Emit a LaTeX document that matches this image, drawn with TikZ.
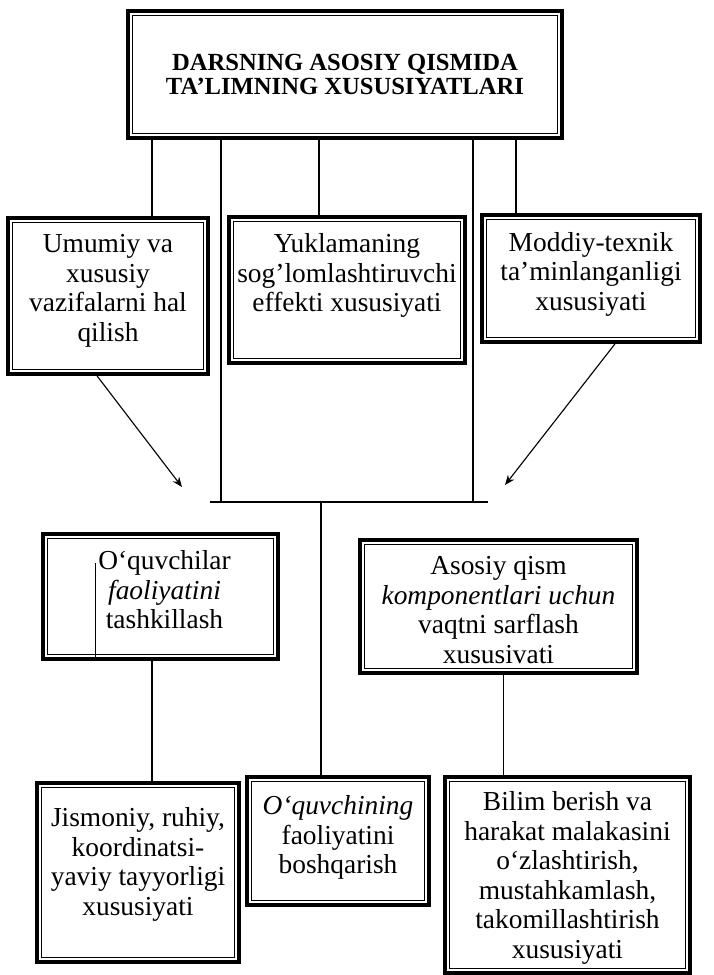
\documentclass[tikz,border=0pt]{standalone}
\usepackage{fontspec}
\setmainfont{Liberation Serif}
\usetikzlibrary{arrows.meta, positioning}

\begin{document}
\begin{tikzpicture}[
    x=0.025cm, y=-0.025cm,
    box/.style={rectangle, draw=black, line width=2.6pt, inner sep=0pt,
        path picture={\draw[line width=0.6pt] ([shift={(3.2pt,-3.2pt)}]path picture bounding box.north west) rectangle ([shift={(-3.2pt,3.2pt)}]path picture bounding box.south east);}},
    txt/.style={align=center, inner sep=0pt, font=\fontsize{19.5}{21}\selectfont},
    title/.style={align=center, font=\bfseries\fontsize{17.5}{17.5}\selectfont},
    link/.style={line width=0.8pt},
    arrow/.style={-{Stealth[length=2.5mm, width=2mm]}, line width=0.8pt}
]
\useasboundingbox (0,0) rectangle (713,975);

% main box
\node[box, title, minimum width=10.85cm, minimum height=3.175cm] (head) at (345,74.5) {DARSNING ASOSIY QISMIDA\\TA’LIMNING XUSUSIYATLARI};

% first row
\node[box, minimum width=5cm, minimum height=3.9cm] (task) at (108,296) {};
\node[txt, below=4.5mm of task.north] (taskT) {Umumiy va\\xususiy\\vazifalarni hal\\qilish};
\node[box, minimum width=5.9cm, minimum height=3.65cm] (load) at (347,290) {};
\node[txt, below=4.5mm of load.north] (loadT) {Yuklamaning\\sog’lomlashtiruvchi\\effekti xususiyati};
\node[box, minimum width=5.45cm, minimum height=3.175cm] (equip) at (591,278.5) {};
\node[txt, below=4.7mm of equip.north] (equipT) {Moddiy-texnik\\ta’minlanganligi\\xususiyati};

% second row
\node[box, minimum width=5.875cm, minimum height=3.125cm] (org) at (160.5,596.5) {};
\node[txt, below=4.5mm of org.north, xshift=0.1cm] (orgT) {O‘quvchilar\\\textit{faoliyatini}\\tashkillash};
\node[box, minimum width=6.925cm, minimum height=3.325cm] (time) at (498.5,606.5) {};
\node[txt, below=4.5mm of time.north] (timeT) {Asosiy qism\\\textit{komponentlari uchun}\\vaqtni sarflash\\xususivati};

% third row
\node[box, minimum width=5.05cm, minimum height=4.475cm] (prep) at (138,872.5) {};
\node[txt, below=6.5mm of prep.north] (prepT) {Jismoniy, ruhiy,\\koordinatsi-\\yaviy tayyorligi\\xususiyati};
\node[box, minimum width=4.55cm, minimum height=3.2cm] (ctrl) at (338,841) {};
\node[txt, below=5mm of ctrl.north] (ctrlT) {\textit{O‘quvchining}\\faoliyatini\\boshqarish};
\node[box, minimum width=6.125cm, minimum height=4.9cm] (skill) at (567.5,875) {};
\node[txt, below=4mm of skill.north] (skillT) {Bilim berish va\\harakat malakasini\\o‘zlashtirish,\\mustahkamlash,\\takomillashtirish\\xususiyati};

% hub line and arrow ends
\coordinate (hubL) at (210,502);
\coordinate (hubR) at (488,502);
\coordinate (tipL) at (182,487);
\coordinate (tipR) at (505,485);

\draw[link] ([xshift=1.1cm]task.north) -- ([xshift=1.1cm]task.north |- head.south);
\draw[link] ([xshift=-0.7cm]load.north) -- ([xshift=-0.7cm]load.north |- head.south);
\draw[link] ([xshift=-1.875cm]equip.north) -- ([xshift=-1.875cm]equip.north |- head.south);
\draw[link] ([xshift=-3.1cm]head.south) -- ([xshift=-3.1cm]head.south |- hubL);
\draw[link] ([xshift=3.2cm]head.south) -- ([xshift=3.2cm]head.south |- hubR);
\draw[link, line width=1.2pt] (hubL) -- (hubR);

\draw[arrow] ([xshift=-0.275cm]task.south) -- (tipL);
\draw[arrow] ([xshift=0.6cm]equip.south) -- (tipR);

\draw[link] ([xshift=-0.425cm]ctrl.north) -- ([xshift=-0.425cm]ctrl.north |- hubL);
\draw[link] ([xshift=0.35cm]prep.north) -- ([xshift=0.35cm]prep.north |- org.south);
\draw[link] ([xshift=-1.6cm]skill.north) -- ([xshift=-1.6cm]skill.north |- time.south);
\draw[link, line width=0.6pt] ([xshift=-1.62cm,yshift=-0.78cm]org.north) -- ([xshift=-1.62cm]org.south);

\end{tikzpicture}
\end{document}
